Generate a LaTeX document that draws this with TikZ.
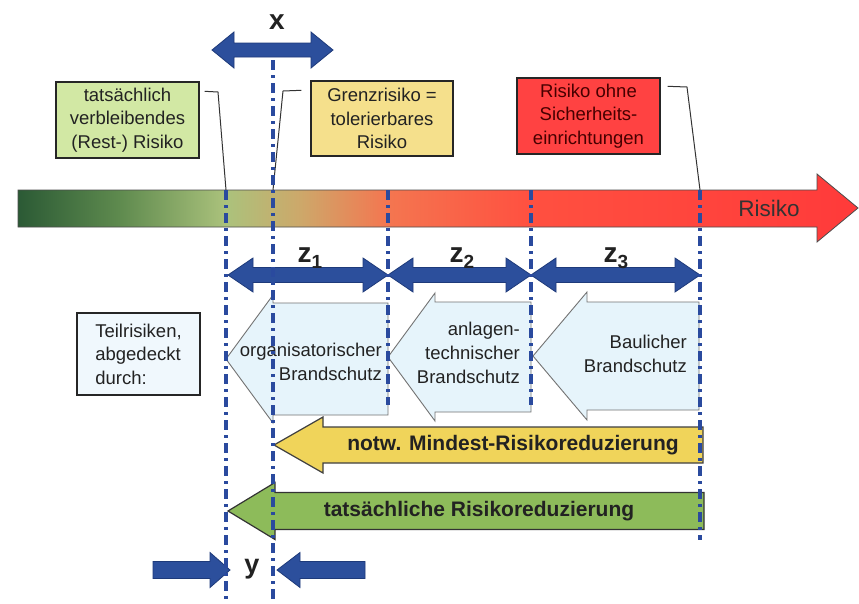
\documentclass[tikz,border=0pt]{standalone}
\usepackage{fontspec}
\setmainfont{Liberation Sans}
\definecolor{ddblue}{HTML}{2A4A9E}
\definecolor{arblue}{HTML}{2C4F9C}
\definecolor{arbluedk}{HTML}{1E3A7A}
\definecolor{lbfill}{HTML}{E6F4FB}
\definecolor{gbfill}{HTML}{D2E8A4}
\definecolor{ybfill}{HTML}{F5E08C}
\definecolor{rbfill}{HTML}{FF4242}
\definecolor{yarrow}{HTML}{F0D45A}
\definecolor{garrow}{HTML}{8DBB5A}
\definecolor{txt}{HTML}{222222}
\definecolor{c1}{HTML}{2B5A35}
\definecolor{c2}{HTML}{5E8A4E}
\definecolor{c3}{HTML}{ABC27C}
\definecolor{c4}{HTML}{CDA86A}
\definecolor{c5}{HTML}{F47650}
\definecolor{c6}{HTML}{FF5040}
\definecolor{c7}{HTML}{FF3A3A}
\pgfdeclarehorizontalshading{riskshade}{100bp}{color(0bp)=(c1); color(25bp)=(c1); color(31bp)=(c2); color(37.4bp)=(c3); color(41.8bp)=(c4); color(47bp)=(c5); color(55.5bp)=(c6); color(75bp)=(c7); color(100bp)=(c7)}
\newcommand{\blockL}[7]{% style, tipx, basex, rightx, cy, bh, hh
  \draw[#1] (#2,#5) -- (#3,#5-#7) -- (#3,#5-#6) -- (#4,#5-#6) -- (#4,#5+#6) -- (#3,#5+#6) -- (#3,#5+#7) -- cycle;}
\newcommand{\blockR}[7]{% style, tipx, basex, leftx, cy, bh, hh
  \draw[#1] (#2,#5) -- (#3,#5-#7) -- (#3,#5-#6) -- (#4,#5-#6) -- (#4,#5+#6) -- (#3,#5+#6) -- (#3,#5+#7) -- cycle;}
\newcommand{\blockLR}[7]{% style, leftx, rightx, headlen, cy, bh, hh
  \draw[#1] (#2,#5) -- (#2+#4,#5-#7) -- (#2+#4,#5-#6) -- (#3-#4,#5-#6) -- (#3-#4,#5-#7) -- (#3,#5)
   -- (#3-#4,#5+#7) -- (#3-#4,#5+#6) -- (#2+#4,#5+#6) -- (#2+#4,#5+#7) -- cycle;}
\begin{document}
\begin{tikzpicture}[x=1pt,y=-1pt,
  dd/.style={draw=ddblue, line width=3.2pt, dash pattern=on 10pt off 5pt on 3pt off 5pt},
  blue arrow/.style={fill=arblue, draw=arbluedk, line width=0.8pt},
  barrow/.style={fill=lbfill, draw=black!55, line width=0.9pt},
  lbox/.style={draw=black!85, line width=1.4pt, inner sep=0pt, align=center, text=txt,
    font=\fontsize{18.5}{23.5}\selectfont},
  leader/.style={draw=black!80, line width=1pt},
  atext/.style={align=right, anchor=east, text=txt, font=\fontsize{18.5}{24}\selectfont, inner sep=0pt},
  big/.style={text=txt, font=\fontsize{21}{24}\selectfont\bfseries, inner sep=0pt},
  zlab/.style={text=txt, font=\fontsize{28}{30}\selectfont\bfseries, inner sep=0pt, anchor=base}]
\useasboundingbox (0,0) rectangle (859,603);
\fill[white] (0,0) rectangle (859,603);

% main risk bar
\path[shading=riskshade, draw=black!70, line width=0.8pt]
  (18,190) -- (817,190) -- (817,174) -- (858,208) -- (817,242) -- (817,227) -- (18,227) -- cycle;
\node[text=black!80, font=\fontsize{22.5}{24}\selectfont, inner sep=0pt] (risiko) at (769,208) {Risiko};

% points on the bar
\coordinate (p1) at (226,190);
\coordinate (p2) at (273,190);
\coordinate (p5) at (700,190);

% label boxes
\node[lbox, fill=gbfill, minimum width=143pt, minimum height=76pt] (gbox) at (127.5,120)
  {tatsächlich\\verbleibendes\\(Rest-) Risiko};
\node[lbox, fill=ybfill, minimum width=142pt, minimum height=75pt] (ybox) at (382,118.5)
  {Grenzrisiko =\\tolerierbares\\Risiko};
\node[lbox, fill=rbfill, minimum width=143pt, minimum height=76pt, text=black!60!red!70!black] (rbox) at (588.5,116)
  {Risiko ohne\\Sicherheits-\\einrichtungen};
\node[lbox, fill=lbfill!60, minimum width=123pt, minimum height=82pt, align=left] (tbox) at (138.5,354)
  {Teilrisiken,\\abgedeckt\\durch:};

% leaders
\draw[leader] ([shift={(5,10)}]gbox.north east) -- (218,92) -- (p1);
\draw[leader] ([shift={(-9,10)}]ybox.north west) -- (283,91) -- (p2);
\draw[leader] ([shift={(7,9)}]rbox.north east) -- (687,87) -- (p5);

% x arrow
\blockLR{blue arrow}{212}{333}{22}{50}{7}{18}
\node[zlab] (xlab) at (277,29) {x};

% z arrows
\blockLR{blue arrow}{228}{388}{25}{275}{7.5}{17}
\blockLR{blue arrow}{388}{531}{25}{275}{7.5}{17}
\blockLR{blue arrow}{531}{700}{25}{275}{7.5}{17}
\node[zlab] (z1) at (310,262) {z\raisebox{-6pt}{\fontsize{19}{19}\selectfont 1}};
\node[zlab] (z2) at (462,262) {z\raisebox{-6pt}{\fontsize{19}{19}\selectfont 2}};
\node[zlab] (z3) at (616,262) {z\raisebox{-6pt}{\fontsize{19}{19}\selectfont 3}};

% partial risk block arrows
\blockL{barrow}{226}{273}{388}{359}{56}{64}
\blockL{barrow}{388}{435}{531}{357}{55}{64}
\blockL{barrow}{533}{587}{699}{356}{54}{64}
\node[atext] (org) at (382,362) {organisatorischer\\Brandschutz};
\node[atext] (anl) at (520,353) {anlagen-\\technischer\\Brandschutz};
\node[atext] (bau) at (687,354) {Baulicher\\Brandschutz};

% reduction arrows
\blockL{fill=yarrow, draw=black!75, line width=1.2pt}{274}{323}{703}{445}{18}{28}
\node[big] (notw) at (513,445) {notw. Mindest-Risikoreduzierung};
\blockL{fill=garrow, draw=black!80, line width=1.2pt}{228}{275}{704}{511}{18.5}{28.5}
\node[big] (tats) at (479,511) {tatsächliche Risikoreduzierung};

% y arrows
\blockR{blue arrow}{230}{210}{153}{570}{8.5}{17.5}
\blockL{blue arrow}{277}{300}{365}{570}{8.5}{17.5}
\node[zlab, font=\fontsize{27}{30}\selectfont\bfseries] (ylab) at (252,573) {y};

% dash-dot guide lines
\draw[dd] (226,190) -- (226,603);
\draw[dd] (273,60) -- (273,603);
\draw[dd] (388,190) -- (388,405);
\draw[dd] (531,190) -- (531,405);
\draw[dd] (700,190) -- (700,540);
\end{tikzpicture}
\end{document}
